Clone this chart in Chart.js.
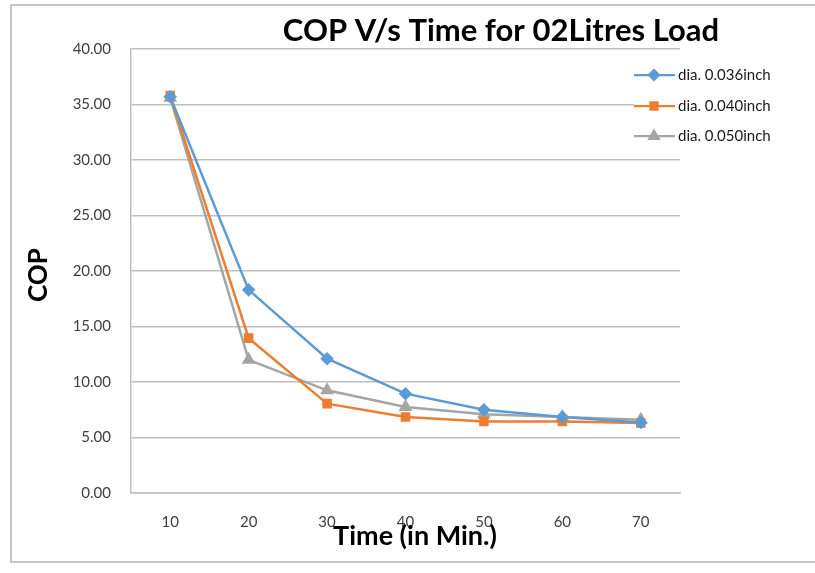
<!DOCTYPE html>
<html>
<head>
<meta charset="utf-8">
<script src="https://cdn.jsdelivr.net/npm/chart.js@4.4.1/dist/chart.umd.min.js"></script>
<style>
  html, body { margin: 0; padding: 0; background: #fff; }
  #wrap { width: 815px; height: 573px; position: relative; }
</style>
</head>
<body>
<div id="wrap"><canvas id="myChart" width="815" height="573"></canvas></div>
<script>
'use strict';

// data
let timeLabels = ['10', '20', '30', '40', '50', '60', '70'];
let dia036 = [35.7, 18.3, 12.1, 8.95, 7.5, 6.85, 6.35];
let dia040 = [35.8, 13.95, 8.05, 6.85, 6.45, 6.45, 6.3];
let dia050 = [35.6, 12.0, 9.25, 7.75, 7.1, 6.85, 6.6];
let seriesNames = ['dia. 0.036inch', 'dia. 0.040inch', 'dia. 0.050inch'];
let yTicks = [0, 5, 10, 15, 20, 25, 30, 35, 40];

let chartTitle = 'COP V/s Time for 02Litres Load';
let xTitle = 'Time (in Min.)';
let yTitle = 'COP';

let fontName = 'Lato, "Open Sans", sans-serif';
let blue = '#5B9BD5';
let orange = '#ED7D31';
let grey = '#A5A5A5';

// outer frame, titles and the legend box
let decorPlugin = {
  id: 'decor',
  beforeDraw(chart) {
    let ctx = chart.ctx;
    ctx.save();
    ctx.fillStyle = '#fff';
    ctx.fillRect(0, 0, chart.width, chart.height);
    ctx.strokeStyle = '#b3b3b3';
    ctx.lineWidth = 1.5;
    ctx.strokeRect(11, 5, 830, 557);
    ctx.restore();
  },
  afterDatasetsDraw(chart) {
    let ctx = chart.ctx;
    ctx.save();
    ctx.fillStyle = '#000';
    ctx.textAlign = 'center';
    ctx.textBaseline = 'middle';
    ctx.font = 'bold 31px ' + fontName;
    ctx.fillText(chartTitle, 501, 31);
    ctx.font = 'bold 27px ' + fontName;
    ctx.fillText(xTitle, 415, 536);
    ctx.translate(39, 275);
    ctx.rotate(-Math.PI / 2);
    ctx.font = 'bold 26px ' + fontName;
    ctx.fillText(yTitle, 0, 0);
    ctx.restore();

    // legend
    ctx.save();
    ctx.fillStyle = '#fff';
    ctx.fillRect(634, 62, 170, 88);
    let rows = [75, 106, 136];
    chart.data.datasets.forEach(function (ds, i) {
      let y = rows[i];
      ctx.strokeStyle = ds.borderColor;
      ctx.lineWidth = 2.25;
      ctx.beginPath();
      ctx.moveTo(634, y);
      ctx.lineTo(675, y);
      ctx.stroke();
      Chart.helpers.drawPoint(ctx, {
        pointStyle: ds.pointStyle,
        radius: ds.pointRadius,
        rotation: 0,
        borderWidth: 1
      }, 654, y);
      ctx.fillStyle = ds.borderColor;
      ctx.fill();
      ctx.fillStyle = '#1a1a1a';
      ctx.font = '15px ' + fontName;
      ctx.textAlign = 'left';
      ctx.textBaseline = 'middle';
      ctx.fillText(ds.label, 678, y);
    });
    ctx.restore();
  }
};

function makeSet(name, values, color, shape, size) {
  return {
    label: name,
    data: values,
    borderColor: color,
    backgroundColor: color,
    borderWidth: 2.5,
    pointStyle: shape,
    pointRadius: size,
    pointHoverRadius: size,
    tension: 0
  };
}

let ctx = document.getElementById('myChart').getContext('2d');
let chart = new Chart(ctx, {
  type: 'line',
  data: {
    labels: timeLabels,
    datasets: [
      makeSet(seriesNames[0], dia036, blue, 'rectRot', 5),
      makeSet(seriesNames[1], dia040, orange, 'rect', 5),
      makeSet(seriesNames[2], dia050, grey, 'triangle', 5.5)
    ]
  },
  options: {
    responsive: false,
    animation: false,
    events: [],
    layout: { padding: { left: 51, right: 135, top: 49, bottom: 40 } },
    plugins: {
      legend: { display: false },
      title: { display: false },
      tooltip: { enabled: false }
    },
    scales: {
      x: {
        offset: true,
        afterFit(scale) { scale.height = 40; },
        grid: { display: false, drawTicks: false },
        border: { display: true, color: '#bfbfbf', width: 1.5 },
        ticks: {
          padding: 20,
          color: '#404040',
          font: { family: fontName, size: 15 }
        }
      },
      y: {
        min: 0,
        max: 40,
        afterFit(scale) { scale.width = 80; },
        afterBuildTicks(scale) {
          scale.ticks = yTicks.map(function (v) { return { value: v }; });
        },
        grid: { color: '#bfbfbf', lineWidth: 1.5, drawTicks: false },
        border: { display: true, color: '#bfbfbf', width: 1.5 },
        ticks: {
          padding: 20,
          color: '#404040',
          font: { family: fontName, size: 15 },
          callback(v) { return v.toFixed(2); }
        }
      }
    }
  },
  plugins: [decorPlugin]
});
</script>
</body>
</html>
